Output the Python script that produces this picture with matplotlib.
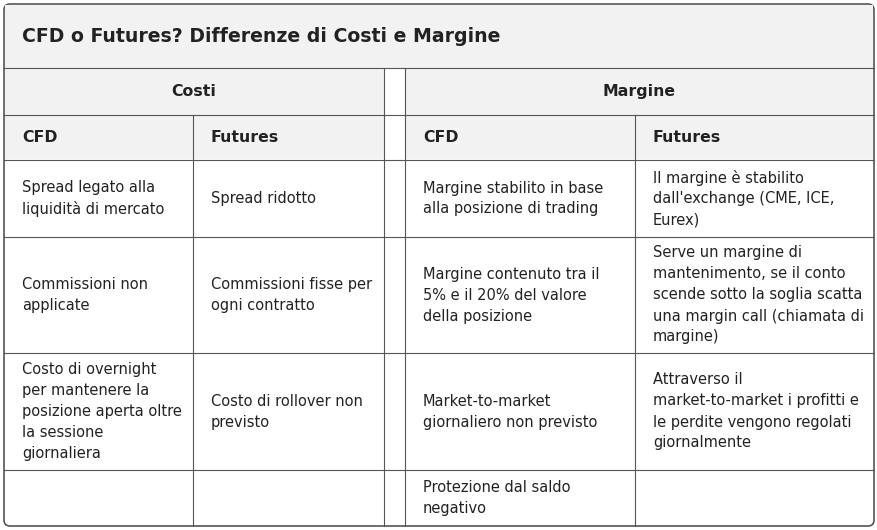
import matplotlib
matplotlib.use('Agg')
import matplotlib.pyplot as plt
from matplotlib.patches import FancyBboxPatch, Rectangle

title = "CFD o Futures? Differenze di Costi e Margine"
groups = ["Costi", "Margine"]
subheads = ["CFD", "Futures", "CFD", "Futures"]
rows = [
    ["Spread legato alla\nliquidità di mercato", "Spread ridotto",
     "Margine stabilito in base\nalla posizione di trading",
     "Il margine è stabilito\ndall'exchange (CME, ICE,\nEurex)"],
    ["Commissioni non\napplicate", "Commissioni fisse per\nogni contratto",
     "Margine contenuto tra il\n5% e il 20% del valore\ndella posizione",
     "Serve un margine di\nmantenimento, se il conto\nscende sotto la soglia scatta\nuna margin call (chiamata di\nmargine)"],
    ["Costo di overnight\nper mantenere la\nposizione aperta oltre\nla sessione\ngiornaliera", "Costo di rollover non\nprevisto",
     "Market-to-market\ngiornaliero non previsto",
     "Attraverso il\nmarket-to-market i profitti e\nle perdite vengono regolati\ngiornalmente"],
    ["", "", "Protezione dal saldo\nnegativo", ""],
]

# layout in pixels
W, H = 878, 530
L, R, T, B = 4, 874, 4, 526
col_x = [4, 193, 384, 405, 635, 874]
row_y = [68, 115, 160, 237, 353, 470, 526]
line_c = "#555555"
head_bg = "#f2f2f2"
txt_c = "#222222"

fig = plt.figure(figsize=(W / 100, H / 100), dpi=100)
ax = fig.add_axes([0, 0, 1, 1])
ax.set_xlim(0, W)
ax.set_ylim(H, 0)
ax.axis('off')

ax.add_patch(FancyBboxPatch((L, T), R - L, B - T, boxstyle="round,pad=0,rounding_size=6",
                            facecolor="white", edgecolor=line_c, lw=1.2, zorder=0))
# header backgrounds
ax.add_patch(Rectangle((L + 1, T + 1), R - L - 2, row_y[2] - T - 2, facecolor=head_bg,
                       edgecolor='none', zorder=0.5))
ax.add_patch(Rectangle((col_x[2], row_y[0]), col_x[3] - col_x[2], B - row_y[0] - 1,
                       facecolor="white", edgecolor='none', zorder=0.6))

ax.text(22, 37, title, fontsize=13.6, fontweight='bold', color=txt_c, va='center')

for y in row_y[:-1]:
    ax.plot([L, R], [y, y], color=line_c, lw=0.8, zorder=2)
for x in [col_x[2], col_x[3]]:
    ax.plot([x, x], [row_y[0], B], color=line_c, lw=0.8, zorder=2)
for x in [col_x[1], col_x[4]]:
    ax.plot([x, x], [row_y[1], B], color=line_c, lw=0.8, zorder=2)

ym = (row_y[0] + row_y[1]) / 2
ax.text((col_x[0] + col_x[2]) / 2, ym, groups[0], fontsize=11.3, fontweight='bold',
        color=txt_c, ha='center', va='center')
ax.text((col_x[3] + col_x[5]) / 2, ym, groups[1], fontsize=11.3, fontweight='bold',
        color=txt_c, ha='center', va='center')

text_x = [col_x[0], col_x[1], col_x[3], col_x[4]]
ym = (row_y[1] + row_y[2]) / 2
for x, s in zip(text_x, subheads):
    ax.text(x + 18, ym, s, fontsize=11.3, fontweight='bold', color=txt_c, va='center')

for i, row in enumerate(rows):
    ym = (row_y[i + 2] + row_y[i + 3]) / 2
    for x, s in zip(text_x, row):
        ax.text(x + 18, ym, s, fontsize=10.5, color=txt_c, va='center', linespacing=1.5)

fig.savefig("out.png", dpi=100)
